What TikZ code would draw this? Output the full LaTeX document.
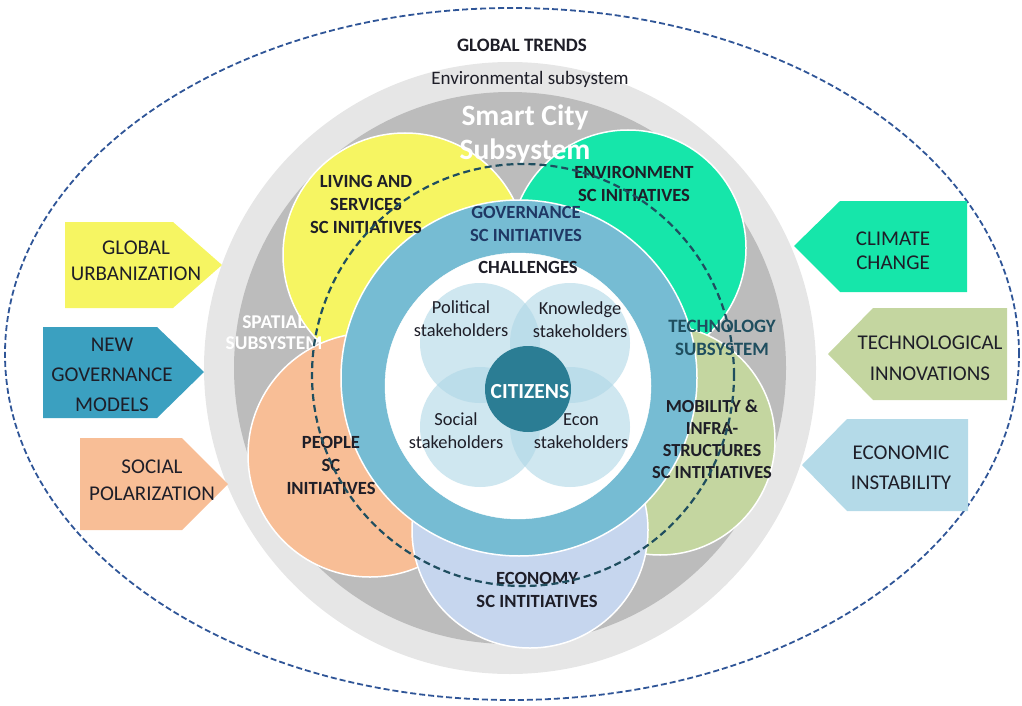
\documentclass[tikz,border=0pt]{standalone}
\usepackage{fontspec}
\setmainfont{Carlito}
\definecolor{lgray}{RGB}{230,230,230}
\definecolor{dgray}{RGB}{188,188,188}
\definecolor{cyellow}{RGB}{246,245,98}
\definecolor{cgreen}{RGB}{22,230,170}
\definecolor{colive}{RGB}{196,214,160}
\definecolor{corange}{RGB}{248,190,150}
\definecolor{cecon}{RGB}{198,214,238}
\definecolor{cring}{RGB}{118,188,211}
\definecolor{cstake}{RGB}{175,215,230}
\definecolor{ccit}{RGB}{43,125,148}
\definecolor{cdash}{RGB}{31,78,95}
\definecolor{cedash}{RGB}{47,85,151}
\definecolor{ablue}{RGB}{59,160,192}
\definecolor{albue}{RGB}{180,218,232}
\definecolor{txt}{RGB}{30,30,40}
\definecolor{navy}{RGB}{31,56,100}
\tikzset{
  disc/.style={draw=white, line width=1.5pt},
  lbl/.style={align=center, text=txt, font=\fontsize{18.6}{23}\selectfont\bfseries},
  reg/.style={align=center, text=txt, font=\fontsize{18.4}{23}\selectfont},
  arrtxt/.style={align=center, text=txt, font=\fontsize{21}{26}\selectfont},
}
\begin{document}
\begin{tikzpicture}[x=1pt,y=-1pt]
\useasboundingbox (0,0) rectangle (1022,706);
% subsystems
\fill[lgray] (510,368) circle[radius=306pt];
\fill[dgray] (510,368) circle[radius=276pt];
% initiative circles
\filldraw[disc, fill=cyellow] (405,255) circle[radius=122pt];
\filldraw[disc, fill=cgreen] (628,248) circle[radius=118pt];
\filldraw[disc, fill=colive] (660,440) circle[radius=115pt];
\filldraw[disc, fill=corange] (370,455) circle[radius=122pt];
\filldraw[disc, fill=cecon] (530,530) circle[radius=118pt];
% governance ring
\filldraw[disc, fill=cring] (519,378) circle[radius=178pt];
\filldraw[draw=white, fill=white] (518,386) circle[radius=133pt];
% stakeholders
\fill[cstake, fill opacity=0.6] (480,343) circle[radius=60pt];
\fill[cstake, fill opacity=0.6] (570,343) circle[radius=60pt];
\fill[cstake, fill opacity=0.6] (480,427) circle[radius=60pt];
\fill[cstake, fill opacity=0.6] (570,427) circle[radius=60pt];
\fill[ccit] (528,389) circle[radius=43pt];
% texts
\node[font=\fontsize{19}{22}\selectfont\bfseries, text=txt] (gt) at (522,45) {GLOBAL TRENDS};
\node[reg, font=\fontsize{19}{22}\selectfont] (env) at (530,79) {Environmental subsystem};
\node[align=center, text=white, font=\fontsize{29.5}{34}\selectfont\bfseries] (sc) at (525,134) {Smart City\\Subsystem};
\node[lbl] (liv) at (366,204) {LIVING AND\\SERVICES\\SC INITIATIVES};
\node[lbl] (envi) at (634,184) {ENVIRONMENT\\SC INITIATIVES};
\node[lbl, text=navy] (gov) at (526,224) {GOVERNANCE\\SC INITIATIVES};
\node[lbl] (chal) at (528,267) {CHALLENGES};
\node[reg] (pol) at (461,319) {Political\\stakeholders};
\node[reg] (kno) at (580,320) {Knowledge\\stakeholders};
\node[align=center, text=white, font=\fontsize{21.5}{24}\selectfont\bfseries] (cit) at (530,392) {CITIZENS};
\node[reg] (soc) at (456,431) {Social\\stakeholders};
\node[reg] (eco) at (581,431) {Econ\\stakeholders};
\node[align=center, text=white, font=\fontsize{19.5}{21}\selectfont\bfseries] (spa) at (274,333) {SPATIAL\\SUBSYSTEM};
\node[align=center, text=cdash, font=\fontsize{18.9}{23}\selectfont\bfseries] (tec) at (722,338) {TECHNOLOGY\\SUBSYSTEM};
\node[lbl] (peo) at (331,465) {PEOPLE\\SC\\INITIATIVES};
\node[lbl, font=\fontsize{18.4}{22}\selectfont\bfseries] (mob) at (712,439) {MOBILITY \&\\INFRA-\\STRUCTURES\\SC INTITIATIVES};
\node[lbl] (ecn) at (537,590) {ECONOMY\\SC INTITIATIVES};
% dashed circles
\draw[cdash, line width=2.2pt, dash pattern=on 7pt off 4pt] (523,375) circle[radius=211pt];
\draw[cedash, line width=1.8pt, dash pattern=on 6pt off 3pt] (512,354) ellipse[x radius=507pt, y radius=346pt];
% left arrows
\fill[cyellow] (65,222) -- (173,222) -- (222,265) -- (173,308) -- (65,308) -- cycle;
\node[arrtxt] (gu) at (136,261) {GLOBAL\\URBANIZATION};
\fill[ablue] (43,327) -- (157,327) -- (204,372) -- (157,418) -- (43,418) -- cycle;
\node[arrtxt, font=\fontsize{21}{30}\selectfont] (ng) at (112,375) {NEW\\GOVERNANCE\\MODELS};
\fill[corange] (80,438) -- (182,438) -- (228,484) -- (182,530) -- (80,530) -- cycle;
\node[arrtxt, font=\fontsize{21}{27}\selectfont] (sp) at (152,480) {SOCIAL\\POLARIZATION};
% right arrows
\fill[cgreen] (967,201) -- (840,201) -- (794,246) -- (840,292) -- (967,292) -- cycle;
\node[arrtxt, font=\fontsize{21}{24.5}\selectfont] (cc) at (893,251) {CLIMATE\\CHANGE};
\fill[colive] (1007,308) -- (873,308) -- (828,354) -- (873,400) -- (1007,400) -- cycle;
\node[arrtxt, font=\fontsize{21}{31}\selectfont] (ti) at (930,358) {TECHNOLOGICAL\\INNOVATIONS};
\fill[albue] (968,419) -- (847,419) -- (802,465) -- (847,511) -- (968,511) -- cycle;
\node[arrtxt, font=\fontsize{21}{30}\selectfont] (ei) at (901,468) {ECONOMIC\\INSTABILITY};
\end{tikzpicture}
\end{document}
